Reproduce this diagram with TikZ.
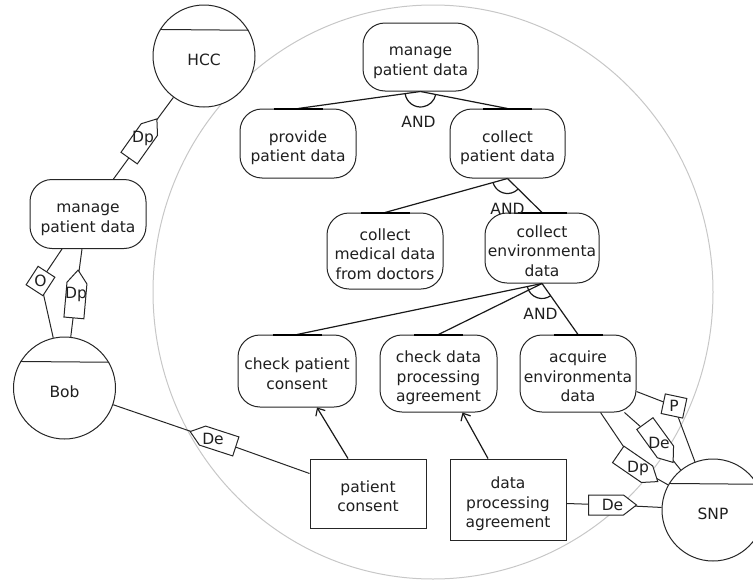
\documentclass[tikz,border=0pt]{standalone}
\usepackage{fontspec}
\setmainfont{DejaVu Sans}
\usetikzlibrary{arrows.meta}
% strut that lowers the first line of a goal label a little
\newcommand{\firstln}{\rule{0pt}{21pt}}
\newcommand{\lastln}{\rule[-4pt]{0pt}{4pt}}
\begin{document}
\begin{tikzpicture}[x=1pt,y=-1pt,
  every node/.style={font=\fontsize{15.5pt}{19.5pt}\selectfont, text=black!88},
  gbox/.style={draw=black!85, line width=1pt, rounded corners=22pt, align=center,
    inner sep=0pt, minimum width=116pt, minimum height=69pt, fill=white},
  rbox/.style={gbox, sharp corners},
  agent/.style={circle, draw=black!85, line width=1pt, minimum size=102pt,
    inner sep=0pt, text height=19pt, text depth=0pt, fill=white},
  chord/.style={draw=black!85, line width=1pt},
  bound/.style={draw=black!22, line width=1pt},
  decomp/.style={draw=black!90, line width=1.2pt},
  bar/.style={draw=black, line width=2pt},
  means/.style={draw=black!90, line width=1.2pt, -{Straight Barb[length=6pt,width=11pt]}},
  dep/.style={draw=black!85, line width=1pt},
  markline/.style={draw=black!85, line width=1pt, fill=white},
  andlbl/.style={inner sep=0pt},
  marktext/.style={inner sep=0pt},
  depmark/.pic={
    \draw[markline] (-24pt,-10pt) -- (11pt,-10pt) -- (24pt,0pt) -- (11pt,10pt) -- (-24pt,10pt) -- cycle;
    \node[marktext] (lbl) at (0,0) {#1};
  },
  boxmark/.pic={
    \draw[markline] (-11pt,-10pt) rectangle (11pt,10pt);
    \node[marktext] (lbl) at (0,0) {#1};
  }
]
\useasboundingbox (0,0) rectangle (753,581);

% system boundary
\draw[bound] (433,292) ellipse [x radius=280pt, y radius=287pt];

% agents
\node[agent] (hcc) at (204,56) {HCC};
\node[agent] (bob) at (64.5,388) {Bob};
\node[agent] (snp) at (713,510) {SNP};
\foreach \a in {hcc,bob,snp}
  \draw[chord] (\a.149.3) -- (\a.30.7);

% goals
\node[gbox] (gl) at (88,214) {\firstln manage\\patient data\lastln};
\node[gbox, minimum width=115pt, minimum height=68pt] (g0) at (420.5,57) {\firstln manage\\patient data\lastln};
\node[gbox] (g1) at (298,143.5) {\firstln provide\\patient data\lastln};
\node[gbox, minimum width=115pt] (g2) at (507.5,143.5) {\firstln collect\\patient data\lastln};
\node[gbox, minimum height=76pt] (g3) at (385,251) {\firstln collect\\medical data\\from doctors\lastln};
\node[gbox, minimum width=114pt, minimum height=70pt] (g4) at (542,248) {\firstln collect\\environmenta\\data\lastln};
\node[gbox, minimum width=118pt, minimum height=72pt] (g5) at (297,371) {\firstln check patient\\consent\lastln};
\node[gbox, minimum width=117pt, minimum height=77pt] (g6) at (438.5,373.5) {\firstln check data\\processing\\agreement\lastln};
\node[gbox, minimum height=77pt] (g7) at (578,373.5) {\firstln acquire\\environmenta\\data\lastln};

% documents
\node[rbox] (pc) at (368,493.5) {\firstln patient\\consent\lastln};
\node[rbox, minimum height=81pt] (dpa) at (508,499.5) {\firstln data\\processing\\agreement\lastln};

% AND decompositions
\foreach \p/\c in {g0/g1, g0/g2, g2/g3, g2/g4, g4/g5, g4/g6, g4/g7}
  \draw[decomp] (\p.south) -- (\c.north);
\foreach \c in {g1,g2,g3,g4,g5,g6,g7}
  \draw[bar] ([xshift=-24.5pt]\c.north) -- ([xshift=24.5pt]\c.north);
\draw[decomp] ([shift={(188.4:15.5pt)}]g0.south) arc[start angle=188.4, end angle=348.3, radius=15.5pt];
\draw[decomp] ([shift={(195.9:15pt)}]g2.south) arc[start angle=195.9, end angle=314.2, radius=15pt];
\draw[decomp] ([shift={(192:15pt)}]g4.south) arc[start angle=192, end angle=305, radius=15pt];
\node[andlbl] (and1) at ([xshift=-2pt,yshift=-30pt]g0.south) {AND};
\node[andlbl] (and2) at ([yshift=-30pt]g2.south) {AND};
\node[andlbl] (and3) at ([xshift=-1.5pt,yshift=-30pt]g4.south) {AND};

% documents support goals
\draw[means] ([xshift=-20pt]pc.north) -- ([xshift=20pt]g5.south);
\draw[means] ([xshift=-20pt]dpa.north) -- ([xshift=24pt]g6.south);

% social dependencies
\coordinate (m1) at (143,138.5);
\coordinate (m2) at (40.5,281);
\coordinate (m3) at (76,294);
\coordinate (m4) at (213,439);
\coordinate (m5) at (674,406);
\coordinate (m6) at (659,443);
\coordinate (m7) at (638,468);
\coordinate (m8) at (612.5,505);

\draw[dep] (hcc) -- (m1) -- (gl);
\draw[dep] (bob) -- (m2) -- ([xshift=-26pt]gl.south);
\draw[dep] (bob) -- (m3) -- ([xshift=-6pt]gl.south);
\draw[dep] (bob) -- (m4) -- ([yshift=20pt]pc.west);
\draw[dep] ([yshift=-18pt]g7.east) -- (m5) -- (snp);
\draw[dep] (g7.-40) -- (m6) -- (snp);
\draw[dep] (g7.-60) -- (m7) -- (snp);
\draw[dep] ([yshift=-4pt]dpa.east) -- (m8) -- (snp);

\pic[rotate=54.7] (mk1) at (m1) {depmark=Dp};
\pic[rotate=57] (mk2) at (m2) {boxmark=O};
\pic[rotate=85] (mk3) at (m3) {depmark=Dp};
\pic[rotate=162] (mk4) at (m4) {depmark=De};
\pic[rotate=-12] (mk5) at (m5) {boxmark=P};
\pic[rotate=-54] (mk6) at (m6) {depmark=De};
\pic[rotate=-34.5] (mk7) at (m7) {depmark=Dp};
\pic[rotate=0] (mk8) at (m8) {depmark=De};
\end{tikzpicture}
\end{document}
